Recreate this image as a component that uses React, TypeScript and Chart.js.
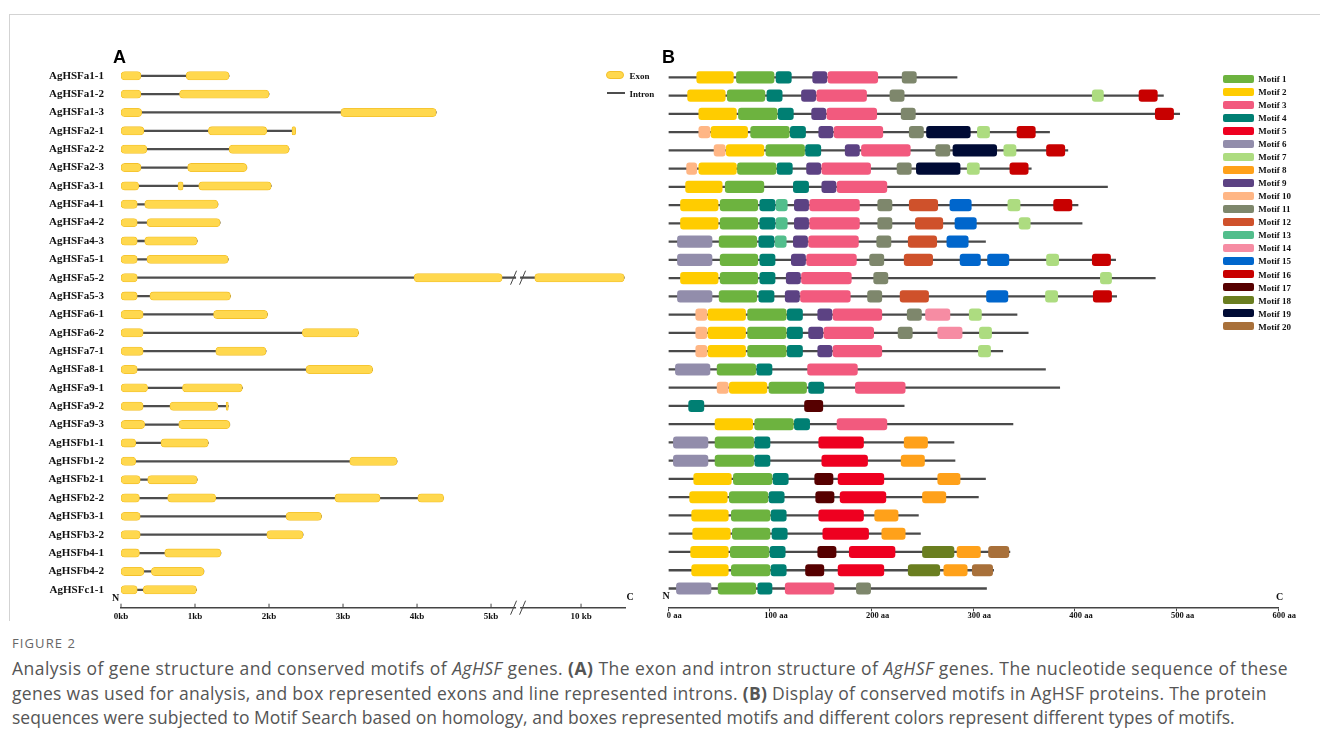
import React, { useEffect, useRef } from 'react';
import { Chart, registerables } from 'chart.js';
Chart.register(...registerables);

// ---------- Panel A: gene structure ----------
const genes = [
  'AgHSFa1-1', 'AgHSFa1-2', 'AgHSFa1-3', 'AgHSFa2-1', 'AgHSFa2-2', 'AgHSFa2-3', 'AgHSFa3-1',
  'AgHSFa4-1', 'AgHSFa4-2', 'AgHSFa4-3', 'AgHSFa5-1', 'AgHSFa5-2', 'AgHSFa5-3', 'AgHSFa6-1',
  'AgHSFa6-2', 'AgHSFa7-1', 'AgHSFa8-1', 'AgHSFa9-1', 'AgHSFa9-2', 'AgHSFa9-3', 'AgHSFb1-1',
  'AgHSFb1-2', 'AgHSFb2-1', 'AgHSFb2-2', 'AgHSFb3-1', 'AgHSFb3-2', 'AgHSFb4-1', 'AgHSFb4-2',
  'AgHSFc1-1',
];

// exon [start, end] in axis units (kb; values after the axis break are on the compressed part)
const exons: number[][][] = [
  [[0, 0.27], [0.88, 1.46]],
  [[0, 0.27], [0.79, 2.0]],
  [[0, 0.28], [2.97, 4.26]],
  [[0, 0.31], [1.18, 1.97], [2.31, 2.36]],
  [[0, 0.35], [1.46, 2.27]],
  [[0, 0.27], [0.9, 1.7]],
  [[0, 0.24], [0.77, 0.84], [1.05, 2.03]],
  [[0, 0.22], [0.32, 1.31]],
  [[0, 0.22], [0.35, 1.34]],
  [[0, 0.22], [0.32, 1.03]],
  [[0, 0.22], [0.35, 1.45]],
  [[0, 0.22], [3.96, 5.15], [5.59, 6.8]],
  [[0, 0.22], [0.39, 1.48]],
  [[0, 0.3], [1.25, 1.98]],
  [[0, 0.3], [2.45, 3.21]],
  [[0, 0.3], [1.28, 1.96]],
  [[0, 0.22], [2.5, 3.4]],
  [[0, 0.36], [0.83, 1.64]],
  [[0, 0.3], [0.66, 1.31], [1.42, 1.45]],
  [[0, 0.32], [0.78, 1.47]],
  [[0, 0.2], [0.54, 1.18]],
  [[0, 0.2], [3.09, 3.73]],
  [[0, 0.26], [0.36, 1.03]],
  [[0, 0.25], [0.63, 1.28], [2.89, 3.5], [4.01, 4.36]],
  [[0, 0.26], [2.23, 2.71]],
  [[0, 0.26], [1.97, 2.46]],
  [[0, 0.25], [0.59, 1.35]],
  [[0, 0.31], [0.41, 1.12]],
  [[0, 0.22], [0.3, 1.02]],
];

const kbTickValues = [0, 1, 2, 3, 4, 5, 6.216];
const kbTickLabels = ['0kb', '1kb', '2kb', '3kb', '4kb', '5kb', '10 kb'];
const kbAxisMax = 6.81;
const kbBreakAt = 5.365;
const brokenGene = 'AgHSFa5-2';

// ---------- Panel B: conserved motifs ----------
const proteinLengths = [
  284, 487, 503, 375, 393, 357, 432, 403, 407, 312, 440, 479, 441, 343, 354, 329, 371, 385, 232,
  339, 281, 282, 312, 305, 246, 248, 336, 320, 313,
];

// [motif number, start aa, end aa]
const motifHits: number[][][] = [
  [[2, 28, 64], [1, 67, 104], [4, 106, 121], [9, 142, 156], [3, 157, 206], [11, 230, 244]],
  [[2, 19, 56], [1, 58, 95], [4, 97, 112], [9, 131, 145], [3, 146, 195], [11, 218, 232], [7, 417, 428], [16, 463, 481]],
  [[2, 30, 67], [1, 69, 107], [4, 108, 123], [9, 141, 155], [3, 156, 205], [11, 229, 243], [16, 479, 497]],
  [[10, 30, 41], [2, 42, 78], [1, 81, 119], [4, 120, 135], [9, 148, 162], [3, 163, 211], [11, 237, 251], [19, 254, 297], [7, 304, 316], [16, 343, 361]],
  [[10, 45, 56], [2, 57, 94], [1, 96, 134], [4, 135, 150], [9, 174, 188], [3, 190, 238], [11, 263, 277], [19, 280, 323], [7, 330, 342], [16, 372, 390]],
  [[10, 18, 28], [2, 30, 67], [1, 68, 106], [4, 107, 122], [9, 136, 150], [3, 151, 199], [11, 225, 239], [19, 244, 287], [7, 294, 306], [16, 336, 354]],
  [[2, 17, 53], [1, 56, 94], [4, 123, 138], [9, 151, 165], [3, 166, 215]],
  [[2, 12, 49], [1, 51, 88], [4, 90, 105], [13, 106, 117], [9, 124, 138], [3, 139, 188], [11, 206, 220], [12, 237, 265], [15, 277, 298], [7, 334, 346], [16, 379, 397]],
  [[2, 12, 49], [1, 51, 88], [4, 90, 105], [13, 106, 117], [9, 124, 138], [3, 139, 188], [11, 206, 220], [12, 243, 270], [15, 282, 303], [7, 345, 356]],
  [[6, 9, 43], [1, 50, 87], [4, 89, 104], [13, 105, 116], [9, 123, 137], [3, 138, 187], [11, 205, 219], [12, 236, 264], [15, 274, 295]],
  [[6, 9, 43], [1, 51, 88], [4, 90, 105], [9, 121, 135], [3, 136, 185], [11, 198, 212], [12, 232, 260], [15, 287, 307], [15, 314, 335], [7, 372, 384], [16, 417, 435]],
  [[2, 12, 49], [1, 51, 88], [4, 90, 105], [9, 116, 130], [3, 131, 180], [11, 202, 216], [7, 425, 436]],
  [[6, 9, 43], [1, 50, 87], [4, 89, 104], [9, 115, 129], [3, 130, 179], [11, 196, 210], [12, 228, 256], [15, 313, 334], [7, 371, 383], [16, 418, 436]],
  [[10, 27, 38], [2, 39, 76], [1, 78, 116], [4, 117, 132], [9, 147, 161], [3, 162, 210], [11, 235, 249], [14, 253, 277], [7, 296, 308]],
  [[10, 27, 38], [2, 39, 76], [1, 78, 116], [4, 117, 132], [9, 138, 152], [3, 153, 202], [11, 226, 240], [14, 265, 289], [7, 306, 318]],
  [[10, 27, 38], [2, 39, 76], [1, 78, 116], [4, 117, 132], [9, 147, 161], [3, 162, 210], [7, 305, 317]],
  [[6, 7, 41], [1, 48, 86], [4, 87, 102], [3, 137, 186]],
  [[10, 48, 59], [2, 60, 97], [1, 99, 136], [4, 138, 153], [3, 184, 233]],
  [[4, 20, 35], [17, 134, 152]],
  [[2, 46, 83], [1, 85, 123], [4, 124, 139], [3, 166, 215]],
  [[6, 5, 39], [1, 46, 84], [4, 85, 100], [5, 148, 192], [8, 232, 255]],
  [[6, 5, 39], [1, 46, 84], [4, 85, 100], [5, 151, 196], [8, 229, 252]],
  [[2, 25, 62], [1, 64, 102], [4, 103, 118], [17, 144, 162], [5, 167, 212], [8, 265, 287]],
  [[2, 21, 58], [1, 60, 98], [4, 99, 114], [17, 145, 163], [5, 169, 214], [8, 250, 273]],
  [[2, 23, 59], [1, 62, 100], [4, 101, 116], [5, 148, 192], [8, 203, 226]],
  [[2, 24, 61], [1, 63, 100], [4, 102, 117], [5, 152, 197], [8, 210, 233]],
  [[2, 22, 59], [1, 61, 99], [4, 100, 115], [17, 147, 165], [5, 178, 223], [18, 250, 281], [8, 284, 307], [20, 315, 335]],
  [[2, 23, 59], [1, 62, 100], [4, 101, 116], [17, 135, 153], [5, 167, 212], [18, 236, 267], [8, 271, 294], [20, 299, 319]],
  [[6, 8, 42], [1, 49, 86], [4, 88, 102], [3, 115, 163], [11, 185, 199]],
];

const motifColors = [
  '#6DB33F', '#FFCC00', '#F25A7E', '#007F73', '#EE0020', '#928DAB', '#ADDC80', '#FFA11A',
  '#5C4283', '#FFB685', '#7E876C', '#CF512B', '#52BE8C', '#F68CA3', '#0066CC', '#C80000',
  '#560000', '#6A7E20', '#000B35', '#A8703A',
];
const aaTickValues = [0, 100, 200, 300, 400, 500, 600];

const serif = '"Liberation Serif", "Times New Roman", serif';

const zeroPad = (s: any) => {
  s.paddingTop = 0;
  s.paddingBottom = 0;
  s.paddingLeft = 0;
  s.paddingRight = 0;
};

function PanelA() {
  const ref = useRef<HTMLCanvasElement>(null);
  useEffect(() => {
    const breakPlugin = {
      id: 'breakMarks',
      afterDraw(chart: any) {
        const { ctx, scales, chartArea } = chart;
        const x = scales.x;
        const y = scales.y;
        const bx = x.getPixelForValue(kbBreakAt);
        const rows = [y.getPixelForValue(genes.indexOf(brokenGene)), chartArea.bottom];
        ctx.save();
        ctx.strokeStyle = '#444';
        ctx.lineWidth = 1;
        kbTickValues.forEach((v) => {
          const px = x.getPixelForValue(v);
          ctx.beginPath();
          ctx.moveTo(px, chartArea.bottom);
          ctx.lineTo(px, chartArea.bottom - 4);
          ctx.stroke();
        });
        rows.forEach((py) => {
          ctx.fillStyle = '#fff';
          ctx.fillRect(bx - 2, py - 2, 4, 4);
          [-4.5, 4.5].forEach((off) => {
            ctx.beginPath();
            ctx.moveTo(bx + off - 3, py + 7);
            ctx.lineTo(bx + off + 3, py - 7);
            ctx.stroke();
          });
        });
        ctx.restore();
      },
    };
    const chart = new Chart(ref.current!, {
      type: 'bar',
      data: {
        datasets: [
          {
            label: 'Intron',
            data: exons.map((ex, i) => ({ x: [0, ex[ex.length - 1][1]], y: i })) as any,
            backgroundColor: '#4d4d4d',
            barThickness: 1.6,
            grouped: false,
            order: 2,
          },
          {
            label: 'Exon',
            data: exons.flatMap((ex, i) => ex.map((e) => ({ x: e, y: i }))) as any,
            backgroundColor: '#FFD84E',
            borderColor: '#F3C02A',
            borderWidth: 0.8,
            borderSkipped: false,
            borderRadius: 4,
            barThickness: 8.3,
            grouped: false,
            order: 1,
          },
        ],
      },
      options: {
        indexAxis: 'y',
        animation: false,
        responsive: false,
        maintainAspectRatio: false,
        layout: { padding: { top: 16.6, right: 25, left: 0, bottom: 0 } },
        plugins: { legend: { display: false }, tooltip: { enabled: false } },
        scales: {
          x: {
            type: 'linear',
            position: 'bottom',
            offset: false,
            min: 0,
            max: kbAxisMax,
            afterBuildTicks: (s: any) => { s.ticks = kbTickValues.map((v) => ({ value: v })); },
            afterFit: (s: any) => { s.height = 22.3; zeroPad(s); },
            grid: { display: false, drawTicks: false },
            border: { display: true, color: '#444', width: 1.5 },
            ticks: {
              padding: 4,
              autoSkip: false,
              maxRotation: 0,
              color: '#111',
              font: { family: serif, weight: 'bold', size: 9 },
              callback: (_v: any, i: number) => kbTickLabels[i],
            },
          },
          y: {
            type: 'linear',
            reverse: true,
            offset: false,
            min: -0.5,
            max: 28.975,
            afterBuildTicks: (s: any) => { s.ticks = genes.map((_g, i) => ({ value: i })); },
            afterFit: (s: any) => { s.width = 121; zeroPad(s); },
            grid: { display: false, drawTicks: false },
            border: { display: false },
            ticks: {
              padding: 17,
              autoSkip: false,
              color: '#111',
              font: { family: serif, weight: 'bold', size: 11 },
              callback: (v: any) => genes[v],
            },
          },
        },
      },
      plugins: [breakPlugin],
    } as any);
    return () => chart.destroy();
  }, []);
  return <canvas ref={ref} width={650} height={580} style={{ position: 'absolute', left: 0, top: 50, width: 650, height: 580 }} />;
}

function PanelB() {
  const ref = useRef<HTMLCanvasElement>(null);
  useEffect(() => {
    const motifSets = motifColors.map((color, m) => ({
      label: 'Motif ' + (m + 1),
      data: motifHits.flatMap((hits, i) =>
        hits.filter((h) => h[0] === m + 1).map((h) => ({ x: [h[1], h[2]], y: i }))
      ),
      backgroundColor: color,
      borderRadius: 3,
      borderSkipped: false,
      barThickness: 11.5,
      grouped: false,
      order: 1,
    }));
    const chart = new Chart(ref.current!, {
      type: 'bar',
      data: {
        datasets: [
          {
            label: 'Protein',
            data: proteinLengths.map((L, i) => ({ x: [0, L], y: i })) as any,
            backgroundColor: '#4a4a4a',
            barThickness: 1.6,
            grouped: false,
            order: 2,
          },
          ...(motifSets as any),
        ],
      },
      options: {
        indexAxis: 'y',
        animation: false,
        responsive: false,
        maintainAspectRatio: false,
        layout: { padding: { top: 18.27, right: 41.7, left: 18.3, bottom: 0 } },
        plugins: { legend: { display: false }, tooltip: { enabled: false } },
        scales: {
          x: {
            type: 'linear',
            position: 'bottom',
            offset: false,
            min: 0,
            max: 600,
            afterBuildTicks: (s: any) => { s.ticks = aaTickValues.map((v) => ({ value: v })); },
            afterFit: (s: any) => { s.height = 22.7; zeroPad(s); },
            grid: { display: true, drawOnChartArea: false, drawTicks: true, tickLength: 4, color: '#444' },
            border: { display: true, color: '#444', width: 1.5 },
            ticks: {
              padding: -1,
              labelOffset: 6,
              autoSkip: false,
              maxRotation: 0,
              color: '#111',
              font: { family: serif, weight: 'bold', size: 8.5 },
              callback: (v: any) => v + ' aa',
            },
          },
          y: {
            type: 'linear',
            display: false,
            reverse: true,
            offset: false,
            min: -0.5,
            max: 29.03,
            afterFit: (s: any) => { zeroPad(s); },
          },
        },
      },
    } as any);
    return () => chart.destroy();
  }, []);
  return <canvas ref={ref} width={670} height={580} style={{ position: 'absolute', left: 650, top: 50, width: 670, height: 580 }} />;
}

const txt = (left: number, cy: number, content: any, font: string, extra: any = {}) => (
  <div style={{ position: 'absolute', left, top: cy, transform: 'translateY(-50%)', font, lineHeight: 1, whiteSpace: 'nowrap', color: '#111', ...extra }}>{content}</div>
);

export default function App() {
  const capFont = '17.5px "Open Sans", sans-serif';
  const capLine = (top: number, spacing: number, content: any) => (
    <div style={{ position: 'absolute', left: 12, top, font: capFont, letterSpacing: spacing, color: '#555', lineHeight: '24.5px', whiteSpace: 'nowrap' }}>{content}</div>
  );
  return (
    <div style={{ position: 'absolute', left: 0, top: 0, width: 1320, height: 749, background: '#fff', overflow: 'hidden' }}>
      <div style={{ position: 'absolute', left: 9, top: 14, width: 1311, height: 606, borderTop: '1px solid #d3d3d3', borderLeft: '1px solid #d3d3d3' }} />
      <PanelA />
      <PanelB />
      {txt(113, 57, 'A', 'bold 18px "Liberation Sans", Arial, sans-serif', { color: '#000' })}
      {txt(662, 57, 'B', 'bold 18px "Liberation Sans", Arial, sans-serif', { color: '#000' })}
      {/* Panel A legend */}
      <div style={{ position: 'absolute', left: 606, top: 71, width: 18, height: 8, background: '#FFD84E', border: '0.8px solid #F3C02A', borderRadius: 4, boxSizing: 'border-box' }} />
      {txt(629.5, 75.5, 'Exon', `bold 9px ${serif}`)}
      <div style={{ position: 'absolute', left: 606.5, top: 92, width: 18, height: 1.6, background: '#4d4d4d' }} />
      {txt(629.5, 93.5, 'Intron', `bold 9px ${serif}`)}
      {/* N / C */}
      {txt(112, 598, 'N', `bold 10px ${serif}`)}
      {txt(626.5, 597, 'C', `bold 10px ${serif}`)}
      {txt(662.5, 596, 'N', `bold 10px ${serif}`)}
      {txt(1276, 597, 'C', `bold 10px ${serif}`)}
      {/* Panel B legend */}
      {motifColors.map((c, i) => (
        <React.Fragment key={i}>
          <div style={{ position: 'absolute', left: 1222.7, top: 78.7 + i * 13.02 - 4, width: 31.6, height: 8, background: c, borderRadius: 2 }} />
          {txt(1258.3, 79.2 + i * 13.02, 'Motif ' + (i + 1), `bold 9px ${serif}`)}
        </React.Fragment>
      ))}
      {/* Caption */}
      <div style={{ position: 'absolute', left: 12, top: 636, font: '13px "Open Sans", sans-serif', letterSpacing: 1.1, color: '#666', lineHeight: '14px' }}>FIGURE 2</div>
      {capLine(656, 0.46, <>Analysis of gene structure and conserved motifs of <i>AgHSF</i> genes. <b>(A)</b> The exon and intron structure of <i>AgHSF</i> genes. The nucleotide sequence of these</>)}
      {capLine(680.5, 0.3, <>genes was used for analysis, and box represented exons and line represented introns. <b>(B)</b> Display of conserved motifs in AgHSF proteins. The protein</>)}
      {capLine(705, 0.03, <>sequences were subjected to Motif Search based on homology, and boxes represented motifs and different colors represent different types of motifs.</>)}
    </div>
  );
}
